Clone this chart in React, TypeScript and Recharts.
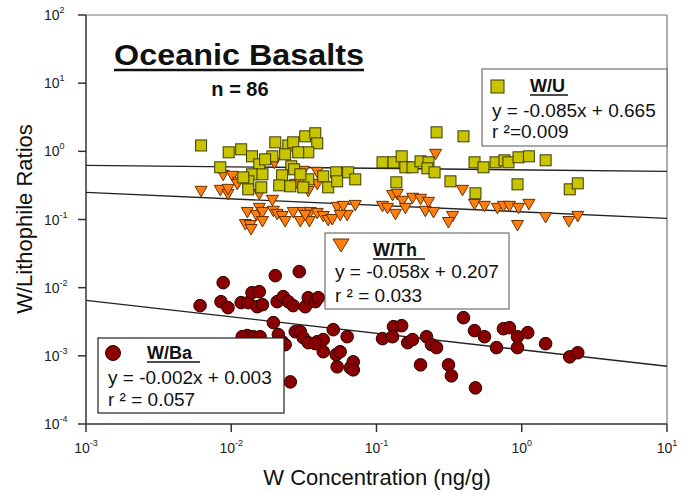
import React from 'react';
import { ScatterChart, Scatter, XAxis, YAxis, ReferenceLine } from 'recharts';

const xTicks = [0.001, 0.01, 0.1, 1, 10];
const yTicks = [0.0001, 0.001, 0.01, 0.1, 1, 10, 100];

// W/U ratios  [W conc, ratio]
const wU: [number, number][] = [
  [0.0062, 1.22], [0.0084, 0.583], [0.0096, 0.967], [0.0117, 1.07], [0.0139, 0.845],
  [0.0156, 0.645], [0.0139, 0.46], [0.0164, 0.46], [0.0131, 0.363], [0.0131, 0.277],
  [0.0161, 0.296], [0.0192, 0.845], [0.0201, 1.355], [0.0247, 1.22], [0.0267, 1.355],
  [0.0323, 1.66], [0.0379, 1.84], [0.0391, 1.31], [0.0339, 0.967], [0.0289, 0.967],
  [0.0259, 0.603], [0.0224, 0.445], [0.0214, 0.317], [0.0255, 0.307], [0.0271, 0.545],
  [0.0339, 0.388], [0.0313, 0.296], [0.043, 0.43], [0.0465, 0.296], [0.0528, 0.492],
  [0.0536, 0.363], [0.0638, 0.492], [0.0714, 0.388], [0.11, 0.69], [0.131, 0.69],
  [0.137, 0.351], [0.149, 0.845], [0.158, 0.583], [0.177, 0.583], [0.201, 0.713],
  [0.228, 0.69], [0.224, 0.563], [0.251, 0.492], [0.259, 1.9], [0.397, 1.66],
  [0.323, 0.363], [0.473, 0.69], [0.545, 0.583], [0.66, 0.69], [0.76, 0.738],
  [0.81, 0.69], [0.95, 0.817], [1.12, 0.845], [1.46, 0.738], [0.48, 0.242],
  [0.935, 0.328], [2.14, 0.277], [2.43, 0.339], [0.0121, 0.415], [0.0171, 0.763],
  [0.0299, 0.46], [0.0235, 0.904],
];

// W/Th ratios
const wTh: [number, number][] = [
  [0.0062, 0.259], [0.0084, 0.268], [0.0095, 0.234], [0.0088, 0.445], [0.0102, 0.43],
  [0.0112, 0.351], [0.0125, 0.0845], [0.0135, 0.0817], [0.0129, 0.127], [0.0149, 0.115],
  [0.0156, 0.146], [0.0164, 0.127], [0.0164, 0.0935], [0.0156, 0.234], [0.0192, 0.191],
  [0.0198, 0.667], [0.0195, 0.132], [0.0207, 0.119], [0.0224, 0.111], [0.0235, 0.0935],
  [0.0267, 0.127], [0.0313, 0.127], [0.035, 0.127], [0.0299, 0.0935], [0.0345, 0.0935],
  [0.0391, 0.123], [0.043, 0.111], [0.0465, 0.0967], [0.0496, 0.1], [0.0536, 0.151],
  [0.059, 0.156], [0.0628, 0.115], [0.0714, 0.161], [0.0339, 0.259], [0.0276, 0.328],
  [0.0313, 0.509], [0.0391, 0.492], [0.0391, 0.328], [0.11, 0.156], [0.129, 0.226],
  [0.135, 0.119], [0.139, 0.234], [0.151, 0.185], [0.177, 0.205], [0.201, 0.198],
  [0.228, 0.179], [0.158, 0.146], [0.217, 0.132], [0.247, 0.127], [0.255, 0.904],
  [0.391, 0.268], [0.473, 0.167], [0.554, 0.156], [0.68, 0.146], [0.748, 0.156],
  [0.823, 0.156], [0.95, 0.146], [1.12, 0.167], [0.334, 0.111], [0.313, 0.0904],
  [0.935, 0.0817], [1.46, 0.107], [2.11, 0.0935], [2.43, 0.111], [0.0095, 0.277],
  [0.0137, 0.0713], [0.011, 0.328], [0.0323, 0.115], [0.0562, 0.115], [0.119, 0.146],
];

// W/Ba ratios
const wBa: [number, number][] = [
  [0.0061, 0.00545], [0.0085, 0.00623], [0.0095, 0.00509], [0.0088, 0.01184], [0.0117, 0.00603],
  [0.0131, 0.00603], [0.0139, 0.00845], [0.0156, 0.00874], [0.0151, 0.00526], [0.0164, 0.00563],
  [0.0201, 0.015], [0.0294, 0.0172], [0.0207, 0.00623], [0.0228, 0.00738], [0.0247, 0.00623],
  [0.0267, 0.00545], [0.0323, 0.00526], [0.0339, 0.00713], [0.0379, 0.00623], [0.0397, 0.00713],
  [0.0195, 0.00307], [0.0129, 0.00198], [0.0142, 0.00191], [0.0158, 0.00191], [0.0211, 0.00205],
  [0.0224, 0.00161], [0.0235, 0.00146], [0.0276, 0.00226], [0.0299, 0.00226], [0.0313, 0.00185],
  [0.0339, 0.00156], [0.0391, 0.00161], [0.043, 0.00173], [0.043, 0.00115], [0.0504, 0.00242],
  [0.0528, 0.00104], [0.0536, 0.00069], [0.0255, 0.000415], [0.0628, 0.00191], [0.066, 0.000667],
  [0.0562, 0.00115], [0.0692, 0.000817], [0.0379, 0.00151], [0.11, 0.00179], [0.131, 0.00268],
  [0.149, 0.00277], [0.129, 0.00191], [0.164, 0.00156], [0.177, 0.00173], [0.221, 0.00191],
  [0.239, 0.00146], [0.259, 0.00132], [0.201, 0.000738], [0.313, 0.000738], [0.328, 0.000509],
  [0.48, 0.000339], [0.397, 0.00363], [0.473, 0.00234], [0.554, 0.00191], [0.67, 0.00132],
  [0.748, 0.0025], [0.823, 0.00259], [0.935, 0.00191], [1.1, 0.00219], [0.935, 0.00132],
  [1.46, 0.00151], [2.14, 0.000967], [2.43, 0.00111], [0.0119, 0.00191], [0.0692, 0.000623],
];

// regression lines (end points)
const fitU = [{ x: 0.001, y: 0.623 }, { x: 10, y: 0.509 }];
const fitTh = [{ x: 0.001, y: 0.25 }, { x: 10, y: 0.104 }];
const fitBa = [{ x: 0.001, y: 0.00652 }, { x: 10, y: 0.000702 }];

const toPts = (a: [number, number][]) => a.map(([x, y]) => ({ x, y }));

const FONT = '"Liberation Sans", Arial, sans-serif';

const XTick = (props: any) => {
  const { x, payload } = props;
  const e = Math.round(Math.log10(payload.value));
  return (
    <text x={x} y={453} textAnchor="middle" fontFamily={FONT} fontSize={14} fill="#222">
      10<tspan dy={-7} fontSize={9}>{e}</tspan>
    </text>
  );
};

const YTick = (props: any) => {
  const { y, payload } = props;
  const e = Math.round(Math.log10(payload.value));
  return (
    <text x={44} y={y + 5} textAnchor="start" fontFamily={FONT} fontSize={14} fill="#222">
      10<tspan dy={-7} fontSize={9}>{e}</tspan>
    </text>
  );
};

const SquareShape = (p: any) => (
  <rect x={p.cx - 5.5} y={p.cy - 5.5} width={11} height={11} fill="#c8c400" stroke="#3a3a00" strokeWidth={1} />
);
const TriShape = (p: any) => (
  <polygon
    points={`${p.cx - 6},${p.cy - 5} ${p.cx + 6},${p.cy - 5} ${p.cx},${p.cy + 5.5}`}
    fill="#ff7f0e" stroke="#6b3000" strokeWidth={1} strokeLinejoin="round"
  />
);
const CircShape = (p: any) => (
  <circle cx={p.cx} cy={p.cy} r={6.3} fill="#8a0000" stroke="#2a0000" strokeWidth={1} />
);

export default function App() {
  return (
    <div style={{ position: 'absolute', left: 0, top: 0, width: 695, height: 493, background: '#fff' }}>
      <ScatterChart width={695} height={493} margin={{ top: 15, right: 28, bottom: 0, left: 0 }}>
        <XAxis
          type="number" dataKey="x" scale="log" domain={[0.001, 10]} ticks={xTicks}
          allowDataOverflow interval={0} height={69} tickSize={8}
          axisLine={{ stroke: '#333', strokeWidth: 1.5 }} tickLine={{ stroke: '#333', strokeWidth: 1.5 }}
          tick={<XTick />}
        />
        <YAxis
          type="number" dataKey="y" scale="log" domain={[0.0001, 100]} ticks={yTicks}
          allowDataOverflow interval={0} width={86} tickSize={8}
          axisLine={{ stroke: '#333', strokeWidth: 1.5 }} tickLine={{ stroke: '#333', strokeWidth: 1.5 }}
          tick={<YTick />}
        />
        <ReferenceLine y={100} stroke="#777" strokeWidth={1.2} />
        <ReferenceLine x={10} stroke="#777" strokeWidth={1.2} />
        <ReferenceLine segment={fitU} stroke="#222" strokeWidth={1.4} />
        <ReferenceLine segment={fitTh} stroke="#222" strokeWidth={1.4} />
        <ReferenceLine segment={fitBa} stroke="#222" strokeWidth={1.4} />
        <Scatter data={toPts(wBa)} shape={CircShape} isAnimationActive={false} />
        <Scatter data={toPts(wTh)} shape={TriShape} isAnimationActive={false} />
        <Scatter data={toPts(wU)} shape={SquareShape} isAnimationActive={false} />
      </ScatterChart>
      <svg width={695} height={493} style={{ position: 'absolute', left: 0, top: 0, pointerEvents: 'none' }}>
        <g fontFamily={FONT} fill="#111">
          <text x={114} y={65} fontSize={29} fontWeight="bold" textLength={250} lengthAdjust="spacingAndGlyphs">Oceanic Basalts</text>
          <line x1={114} y1={70} x2={364} y2={70} stroke="#111" strokeWidth={2.5} />
          <text x={240} y={96} fontSize={20} fontWeight="bold" textAnchor="middle">n = 86</text>
          <text transform="translate(32,219) rotate(-90)" fontSize={22} textAnchor="middle">W/Lithophile Ratios</text>
          <text x={377} y={485} fontSize={22} textAnchor="middle">W Concentration (ng/g)</text>

          {/* W/U legend */}
          <rect x={482} y={69} width={185} height={77} fill="#fff" stroke="#555" strokeWidth={1} />
          <rect x={491} y={80} width={13} height={13} fill="#c8c400" stroke="#3a3a00" strokeWidth={1} />
          <text x={530} y={92} fontSize={18} fontWeight="bold">W/U</text>
          <line x1={530} y1={95} x2={568} y2={95} stroke="#111" strokeWidth={1.5} />
          <text x={492} y={117} fontSize={19}>y = -0.085x + 0.665</text>
          <text x={492} y={138} fontSize={19}>r ²=0.009</text>

          {/* W/Th legend */}
          <rect x={325} y={233} width={184} height={76} fill="#fff" stroke="#555" strokeWidth={1} />
          <polygon points="333,239 349,239 341,252" fill="#ff7f0e" stroke="#6b3000" strokeWidth={1} />
          <text x={373} y={256} fontSize={18} fontWeight="bold">W/Th</text>
          <line x1={373} y1={259} x2={425} y2={259} stroke="#111" strokeWidth={1.5} />
          <text x={335} y={278} fontSize={19}>y = -0.058x + 0.207</text>
          <text x={335} y={302} fontSize={19}>r ² = 0.033</text>

          {/* W/Ba legend */}
          <rect x={98} y={338} width={186} height={75} fill="#fff" stroke="#222" strokeWidth={1.2} />
          <circle cx={113} cy={353} r={7.5} fill="#8a0000" stroke="#2a0000" strokeWidth={1} />
          <text x={147} y={359} fontSize={18} fontWeight="bold">W/Ba</text>
          <line x1={147} y1={362} x2={200} y2={362} stroke="#111" strokeWidth={1.5} />
          <text x={108} y={384} fontSize={19}>y = -0.002x + 0.003</text>
          <text x={108} y={406} fontSize={19}>r ² = 0.057</text>
        </g>
      </svg>
    </div>
  );
}
